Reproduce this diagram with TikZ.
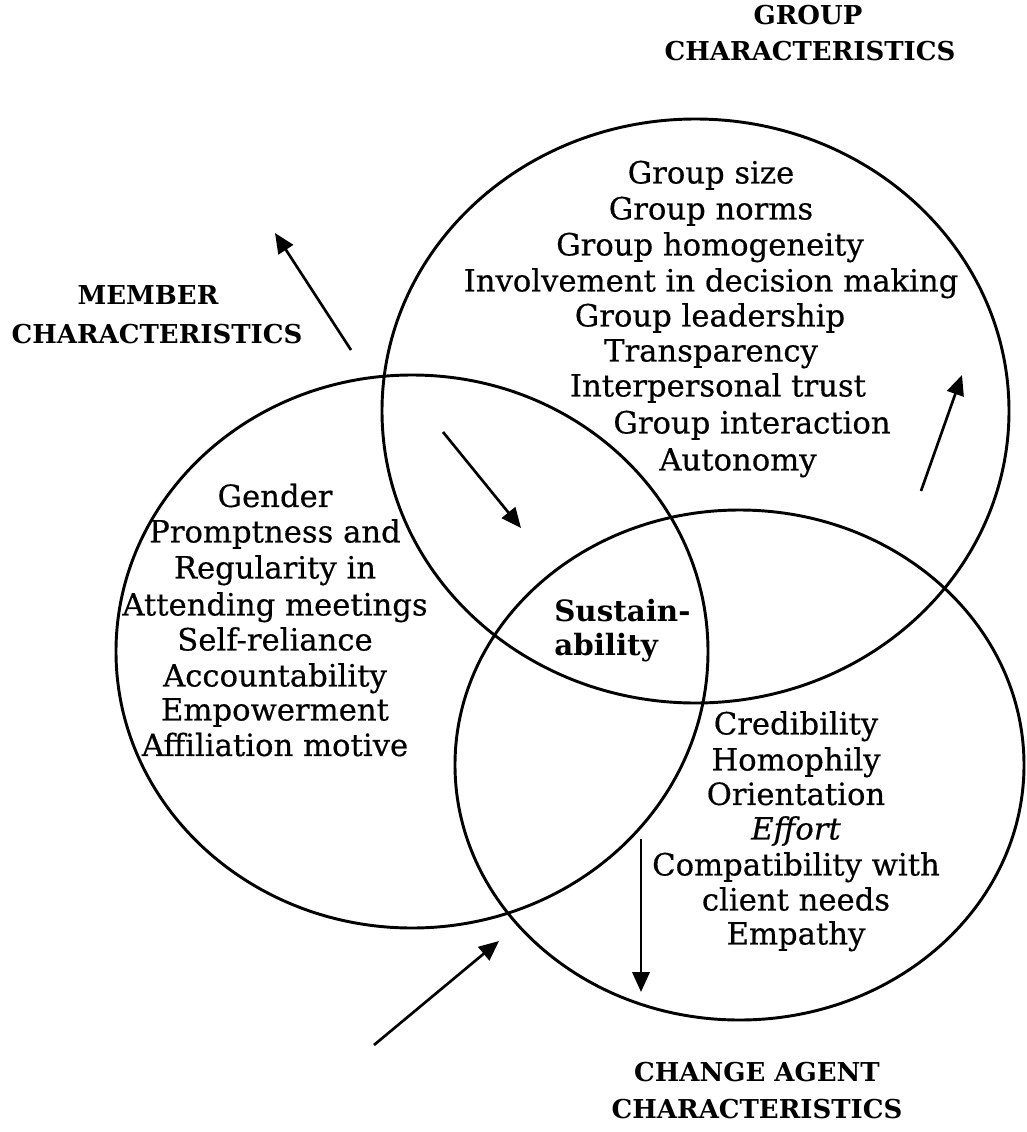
\documentclass[tikz,border=0pt]{standalone}
\usepackage{fontspec}
\setmainfont{DejaVu Serif}
\newfontfamily\itemfont{DejaVu Serif}[FakeBold=0.5]
\usetikzlibrary{arrows.meta}
\begin{document}
\begin{tikzpicture}[x=0.75pt,y=-0.75pt,
  ring/.style={line width=2.2pt},
  flow/.style={line width=2pt,-{Triangle[length=15pt,width=13pt]}},
  item/.style={font=\itemfont\fontsize{23}{27}\selectfont, inner sep=0pt, anchor=mid},
  head/.style={font=\bfseries\fontsize{19.5}{23}\selectfont, inner sep=0pt, anchor=mid},
  core/.style={font=\bfseries\fontsize{22}{26}\selectfont, inner sep=0pt, anchor=mid west},
]
\useasboundingbox (0,0) rectangle (1026,1132);
\fill[white] (0,0) rectangle (1026,1132);

% the three overlapping sets
\coordinate (gc) at (695.5,411);
\coordinate (mc) at (412,651.5);
\coordinate (cc) at (739.5,765);
\draw[ring] (gc) ellipse [x radius=313.5, y radius=292];
\draw[ring] (mc) ellipse [x radius=296, y radius=276.5];
\draw[ring] (cc) ellipse [x radius=284.5, y radius=255];

% set titles
\node[head] (gt1) at (808,21) {GROUP};
\node[head] (gt2) at (810,57) {CHARACTERISTICS};
\node[head] (mt1) at (148,301) {MEMBER};
\node[head] (mt2) at (157,340) {CHARACTERISTICS};
\node[head] (ct1) at (757,1078) {CHANGE AGENT};
\node[head] (ct2) at (757,1115) {CHARACTERISTICS};

% group characteristics
\node[item] (g1) at (711,180) {Group size};
\node[item] (g2) at (711,216) {Group norms};
\node[item] (g3) at (710,252) {Group homogeneity};
\node[item] (g4) at (711,288) {Involvement in decision making};
\node[item] (g5) at (710,323) {Group leadership};
\node[item] (g6) at (711,358) {Transparency};
\node[item] (g7) at (718,393) {Interpersonal trust};
\node[item] (g8) at (752,430) {Group interaction};
\node[item] (g9) at (738,467) {Autonomy};

% member characteristics
\node[item] (m1) at (275,503.5) {Gender};
\node[item] (m2) at (275,539) {Promptness and};
\node[item] (m3) at (275,575) {Regularity in};
\node[item] (m4) at (275,612) {Attending meetings};
\node[item] (m5) at (275,647) {Self-reliance};
\node[item] (m6) at (275,683) {Accountability};
\node[item] (m7) at (275,717) {Empowerment};
\node[item] (m8) at (275,752.5) {Affiliation motive};

% change agent characteristics
\node[item] (c1) at (796,731) {Credibility};
\node[item] (c2) at (796,767) {Homophily};
\node[item] (c3) at (796,801.5) {Orientation};
\node[item] (c4) at (796,836) {\itshape Effort};
\node[item] (c5) at (796,872) {Compatibility with};
\node[item] (c6) at (796,907) {client needs};
\node[item] (c7) at (796,941) {Empathy};

% common core
\node[core] (s1) at (554,618) {Sustain-};
\node[core] (s2) at (554,652) {ability};

% flow arrows
\coordinate (a1s) at (351,350); \coordinate (a1e) at (275,233);
\coordinate (a2s) at (921,491); \coordinate (a2e) at (962,375);
\coordinate (a3s) at (443,432); \coordinate (a3e) at (521,528);
\coordinate (a4s) at (374,1045); \coordinate (a4e) at (499,941);
\coordinate (a5s) at (641,839); \coordinate (a5e) at (641,992);
\draw[flow] (a1s) -- (a1e);
\draw[flow] (a2s) -- (a2e);
\draw[flow] (a3s) -- (a3e);
\draw[flow] (a4s) -- (a4e);
\draw[flow] (a5s) -- (a5e);
\end{tikzpicture}
\end{document}
